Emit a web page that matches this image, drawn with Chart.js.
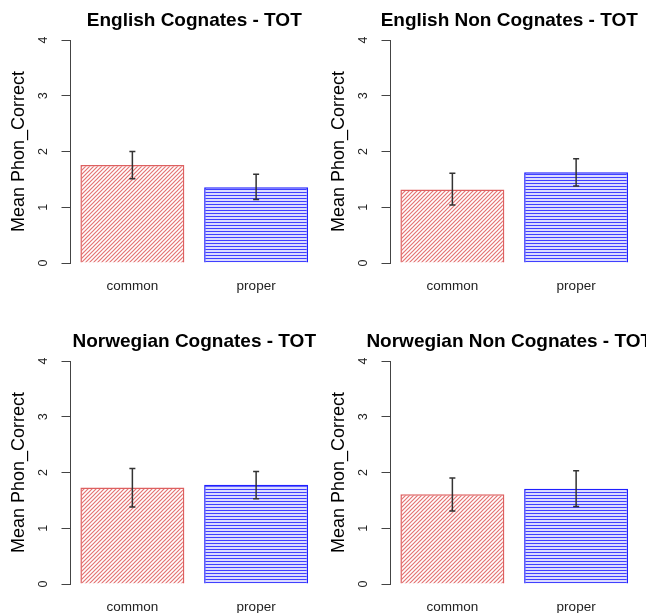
<!DOCTYPE html>
<html>
<head>
<meta charset="utf-8">
<script src="https://cdn.jsdelivr.net/npm/chart.js@4.4.1/dist/chart.umd.min.js"></script>
<style>
  html, body { margin: 0; padding: 0; background: #fff; overflow: hidden; }
  body { width: 646px; height: 613px; position: relative; }
  canvas { position: absolute; }
</style>
</head>
<body>
<canvas id="c0" width="320" height="321" style="left:0;top:0"></canvas>
<canvas id="c1" width="326" height="321" style="left:320px;top:0"></canvas>
<canvas id="c2" width="320" height="321" style="left:0;top:321px"></canvas>
<canvas id="c3" width="326" height="321" style="left:320px;top:321px"></canvas>
<script>
const titles = ['English Cognates - TOT', 'English Non Cognates - TOT', 'Norwegian Cognates - TOT', 'Norwegian Non Cognates - TOT'];
const categories = ['common', 'proper'];
const commonMeans = [1.76, 1.32, 1.73, 1.61];
const properMeans = [1.36, 1.63, 1.78, 1.71];
const commonLow = [1.51, 1.04, 1.38, 1.31];
const commonHigh = [2.00, 1.61, 2.07, 1.90];
const properLow = [1.14, 1.38, 1.53, 1.39];
const properHigh = [1.59, 1.87, 2.02, 2.03];
const yTicks = [0, 1, 2, 3, 4];

const FONT = '"Liberation Sans", Arial, Helvetica, sans-serif';
// right-hand panels have their titles nudged a bit left in the original
const titleNudge = [0, -5, 0, -5];

// hatch fills like R's density/angle
function diagHatch() {
  const c = document.createElement('canvas');
  c.width = 4; c.height = 4;
  const g = c.getContext('2d');
  g.fillStyle = '#fff';
  g.fillRect(0, 0, 4, 4);
  g.strokeStyle = 'rgba(220,80,80,0.8)';
  g.lineWidth = 1.2;
  g.beginPath();
  g.moveTo(0, 4); g.lineTo(4, 0);
  g.moveTo(-1, 1); g.lineTo(1, -1);
  g.moveTo(3, 5); g.lineTo(5, 3);
  g.stroke();
  return g.createPattern(c, 'repeat');
}
function horizHatch() {
  const c = document.createElement('canvas');
  c.width = 4; c.height = 3;
  const g = c.getContext('2d');
  g.fillStyle = '#dcdcff';
  g.fillRect(0, 0, 4, 3);
  g.fillStyle = '#4040ff';
  g.fillRect(0, 0, 4, 1);
  return g.createPattern(c, 'repeat');
}

const titlePlugin = {
  id: 'rTitle',
  afterDraw(chart, args, opts) {
    const ctx = chart.ctx;
    const a = chart.chartArea;
    ctx.save();
    ctx.font = 'bold 19px ' + FONT;
    ctx.fillStyle = '#000';
    ctx.textAlign = 'center';
    ctx.textBaseline = 'middle';
    ctx.fillText(opts.text, (a.left + a.right) / 2 + opts.nudge, 21);
    ctx.restore();
  }
};

const yLabelPlugin = {
  id: 'rYLabels',
  afterDraw(chart) {
    const ctx = chart.ctx;
    const y = chart.scales.y;
    ctx.save();
    ctx.font = '12.5px ' + FONT;
    ctx.fillStyle = '#222';
    ctx.textAlign = 'center';
    ctx.textBaseline = 'middle';
    y.ticks.forEach(t => {
      const py = y.getPixelForValue(t.value);
      ctx.save();
      ctx.translate(y.right - 27, py);
      ctx.rotate(-Math.PI / 2);
      ctx.fillText(String(t.value), 0, 0);
      ctx.restore();
    });
    ctx.restore();
  }
};

const errPlugin = {
  id: 'errBars',
  afterDatasetsDraw(chart, args, opts) {
    const ctx = chart.ctx;
    const y = chart.scales.y;
    const meta = chart.getDatasetMeta(0);
    ctx.save();
    ctx.strokeStyle = '#333';
    ctx.lineWidth = 1.5;
    meta.data.forEach((bar, i) => {
      const top = y.getPixelForValue(opts.high[i]);
      const bot = y.getPixelForValue(opts.low[i]);
      ctx.beginPath();
      ctx.moveTo(bar.x, top); ctx.lineTo(bar.x, bot);
      ctx.moveTo(bar.x - 3, top); ctx.lineTo(bar.x + 3, top);
      ctx.moveTo(bar.x - 3, bot); ctx.lineTo(bar.x + 3, bot);
      ctx.stroke();
    });
    ctx.restore();
  }
};

for (let k = 0; k < 4; k++) {
  const cv = document.getElementById('c' + k);
  new Chart(cv, {
    type: 'bar',
    data: {
      labels: categories,
      datasets: [{
        data: [commonMeans[k], properMeans[k]],
        backgroundColor: [diagHatch(), horizHatch()],
        borderColor: ['#dd6060', '#2020ff'],
        borderWidth: 1.5,
        categoryPercentage: 1,
        barPercentage: 0.84
      }]
    },
    options: {
      responsive: false,
      animation: false,
      layout: { padding: { top: 40, bottom: 0, left: 0, right: cv.width - 318 } },
      plugins: {
        legend: { display: false },
        tooltip: { enabled: false },
        rTitle: { text: titles[k], nudge: titleNudge[k] },
        errBars: {
          low: [commonLow[k], properLow[k]],
          high: [commonHigh[k], properHigh[k]]
        }
      },
      scales: {
        x: {
          grid: { display: false, drawTicks: false },
          border: { display: false },
          ticks: { font: { family: FONT, size: 13.5 }, color: '#222', padding: 15 },
          afterFit(s) { s.height = 58; }
        },
        y: {
          min: 0,
          max: 4,
          afterBuildTicks(s) { s.ticks = yTicks.map(v => ({ value: v })); },
          ticks: { display: false },
          grid: { drawOnChartArea: false, drawTicks: true, tickLength: 9, color: '#444', lineWidth: 1 },
          border: { display: true, color: '#444', width: 1 },
          title: {
            display: true,
            text: 'Mean Phon_Correct',
            font: { family: FONT, size: 18 },
            color: '#000',
            padding: { top: 8, bottom: 0 }
          },
          afterFit(s) { s.width = 70.5; }
        }
      }
    },
    plugins: [titlePlugin, yLabelPlugin, errPlugin]
  });
}
</script>
</body>
</html>
